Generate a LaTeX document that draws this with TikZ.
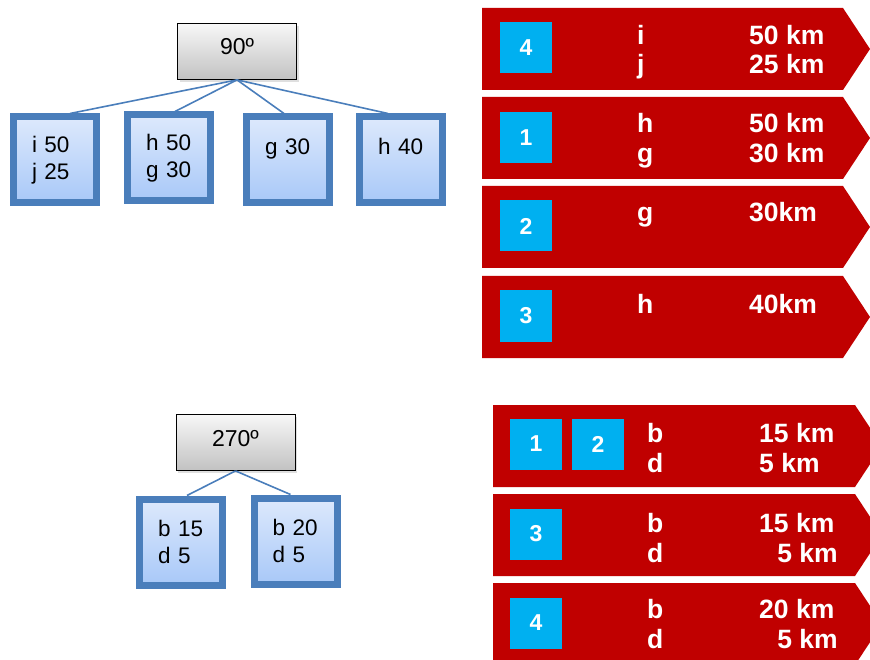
\documentclass[tikz,border=0pt]{standalone}
\usepackage{fontspec}
\setmainfont{Liberation Sans}
\usetikzlibrary{shadows}
\definecolor{signred}{HTML}{C00000}
\definecolor{numblue}{HTML}{00B0F0}
\definecolor{treeblue}{HTML}{4A7EBB}
\definecolor{leaftop}{HTML}{DDE9FC}
\definecolor{leafbot}{HTML}{A8C8F8}
\tikzset{
  softshadow/.style={drop shadow={opacity=0.25, shadow xshift=2pt, shadow yshift=-2.5pt}},
  rootbox/.style={draw=black, line width=0.8pt, top color=gray!6, bottom color=gray!48,
    minimum width=119pt, minimum height=56pt, inner sep=0pt, text height=17pt, text depth=10pt,
    font=\fontsize{23}{27}\selectfont, softshadow},
  leafbox/.style={draw=treeblue, line width=7pt, top color=leaftop, bottom color=leafbot,
    minimum width=83pt, minimum height=86pt, text width=46pt, align=left, inner sep=0pt,
    font=\fontsize{22.5}{27}\selectfont, softshadow},
  branch/.style={draw=treeblue, line width=1.6pt},
  numbox/.style={fill=numblue, text=white, minimum width=52pt, minimum height=51pt,
    inner sep=0pt, font=\fontsize{23}{26}\selectfont\bfseries},
  signtxt/.style={text=white, inner sep=0pt, font=\fontsize{26.5}{30}\selectfont\bfseries}
}
\begin{document}
\begin{tikzpicture}[x=1pt, y=-1pt]
  \useasboundingbox (0,0) rectangle (870,660);
  \clip (0,0) rectangle (870,660);
  % tree for 90 degrees
  \node[rootbox] (r1) at (237,51.5) {90º};
  \node[leafbox] (l1) at (55,160) {i 50\\j 25};
  \node[leafbox] (l2) at (169,158) {h 50\\g 30};
  \node[leafbox] (l3) at (288,160) {g 30\\~};
  \node[leafbox] (l4) at (401,160) {h 40\\~};
  \draw[branch] (r1.south) -- ([xshift=15pt]l1.north);
  \draw[branch] (r1.south) -- ([xshift=6pt]l2.north);
  \draw[branch] (r1.south) -- ([xshift=-4pt]l3.north);
  \draw[branch] (r1.south) -- ([xshift=-13pt]l4.north);
  % tree for 270 degrees
  \node[rootbox] (r2) at (235.5,442.5) {270º};
  \node[leafbox] (m1) at (181,542) {b 15\\d 5};
  \node[leafbox] (m2) at (295.5,541) {b 20\\d 5};
  \draw[branch] (r2.south) -- ([xshift=6pt]m1.north);
  \draw[branch] (r2.south) -- ([xshift=-5pt]m2.north);
  % red signs, upper group
  \foreach \y in {8,97,186,276}
    \fill[signred] (482,\y) -- (843,\y) -- (870,\y+41) -- (843,\y+82) -- (482,\y+82) -- cycle;
  \node[numbox] (a1) at (526,48) {4};
  \node[numbox] (a2) at (526,138) {1};
  \node[numbox] (a3) at (526,226) {2};
  \node[numbox] (a4) at (526,316) {3};
  \node[signtxt, anchor=base west] (a1x) at (637,45) {i};
  \node[signtxt, anchor=base west] (a1y) at (637,74) {j};
  \node[signtxt, anchor=base west] (a1u) at (749,45) {50 km};
  \node[signtxt, anchor=base west] (a1v) at (749,74) {25 km};
  \node[signtxt, anchor=base west] (a2x) at (637,133) {h};
  \node[signtxt, anchor=base west] (a2y) at (637,163) {g};
  \node[signtxt, anchor=base west] (a2u) at (749,133) {50 km};
  \node[signtxt, anchor=base west] (a2v) at (749,163) {30 km};
  \node[signtxt, anchor=base west] (a3x) at (637,222) {g};
  \node[signtxt, anchor=base west] (a3u) at (749,222) {30km};
  \node[signtxt, anchor=base west] (a4x) at (637,313) {h};
  \node[signtxt, anchor=base west] (a4u) at (749,313) {40km};
  % red signs, lower group
  \foreach \y in {405,494,583}
    \fill[signred] (493,\y) -- (855,\y) -- (882,\y+41) -- (855,\y+82) -- (493,\y+82) -- cycle;
  \node[numbox] (b1) at (536,444) {1};
  \node[numbox] (b2) at (598,444) {2};
  \node[numbox] (b3) at (536,534) {3};
  \node[numbox] (b4) at (536,623) {4};
  \node[signtxt, anchor=base west] (b1x) at (647,442) {b};
  \node[signtxt, anchor=base west] (b1y) at (647,472) {d};
  \node[signtxt, anchor=base west] (b1u) at (759,442) {15 km};
  \node[signtxt, anchor=base west] (b1v) at (759,472) {5 km};
  \node[signtxt, anchor=base west] (b3x) at (647,532) {b};
  \node[signtxt, anchor=base west] (b3y) at (647,562) {d};
  \node[signtxt, anchor=base west] (b3u) at (759,532) {15 km};
  \node[signtxt, anchor=base east] (b3v) at (838,562) {5 km};
  \node[signtxt, anchor=base west] (b4x) at (647,618) {b};
  \node[signtxt, anchor=base west] (b4y) at (647,648) {d};
  \node[signtxt, anchor=base west] (b4u) at (759,618) {20 km};
  \node[signtxt, anchor=base east] (b4v) at (838,648) {5 km};
\end{tikzpicture}
\end{document}
